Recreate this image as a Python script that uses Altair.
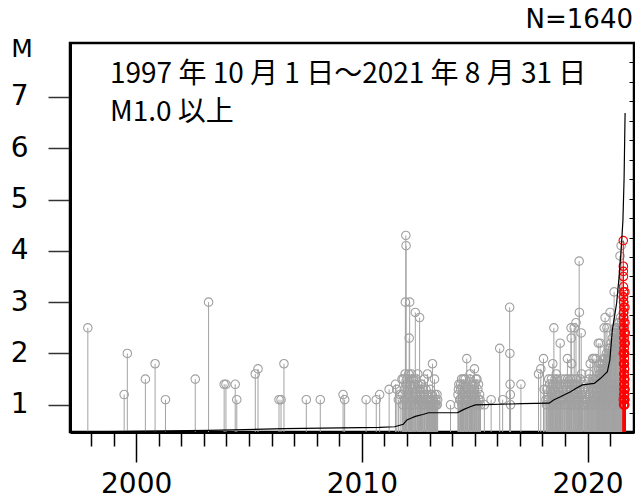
import altair as alt
import pandas as pd

# ---------------- data ----------------
# isolated events 1997-2011
early_years = [1997.86, 1999.47, 1999.61, 2000.41, 2000.84, 2001.30, 2002.62, 2003.21,
               2003.90, 2003.98, 2004.39, 2004.46, 2005.28, 2005.40, 2006.33, 2006.42,
               2006.55, 2007.54, 2008.16, 2009.17, 2009.24, 2010.19, 2010.64, 2010.79, 2011.21]
early_mags = [2.5, 1.2, 2.0, 1.5, 1.8, 1.1, 1.5, 3.0,
              1.4, 1.4, 1.4, 1.1, 1.6, 1.7, 1.1, 1.1,
              1.8, 1.1, 1.1, 1.2, 1.1, 1.1, 1.1, 1.2, 1.3]

# taller / isolated events 2011-2021 (grey)
tall_years = [2011.49, 2011.55, 2011.62, 2011.70, 2011.78, 2011.93, 2011.95, 2011.96,
              2012.10, 2012.12, 2012.37, 2012.48, 2012.56, 2012.65, 2012.77, 2012.91,
              2013.07, 2013.13, 2013.22, 2013.33, 2013.93,
              2014.28, 2014.38, 2014.50, 2014.65, 2014.80, 2014.99, 2015.06, 2015.17,
              2015.43, 2015.73, 2016.11, 2016.24, 2016.55, 2016.56, 2016.57, 2016.58,
              2016.59, 2017.05, 2017.83, 2017.93, 2018.05, 2018.08, 2018.46, 2018.51,
              2018.62, 2018.79, 2019.11, 2019.27, 2019.28, 2019.30, 2019.41, 2019.49,
              2019.63, 2019.64, 2019.72, 2019.74, 2020.07, 2020.12, 2020.23, 2020.29,
              2020.38, 2020.48, 2020.56, 2020.74, 2020.78, 2020.86, 2021.00, 2021.18,
              2021.44, 2021.49]
tall_mags = [1.4, 1.3, 1.1, 1.2, 1.5, 3.0, 4.3, 4.1,
             2.3, 3.0, 2.8, 1.6, 2.7, 1.4, 1.5, 1.6,
             1.2, 1.8, 1.5, 1.2, 1.0,
             1.3, 1.4, 1.5, 1.9, 1.6, 1.7, 1.5, 1.4,
             1.0, 1.1, 2.1, 1.1, 2.9, 2.0, 1.4, 1.2,
             1.0, 1.4, 1.6, 1.7, 1.9, 1.3, 1.8, 2.5,
             1.6, 2.2, 1.9, 2.5, 2.3, 1.8, 2.5, 2.6,
             3.8, 2.8, 2.4, 1.6, 1.6, 1.8, 1.9, 1.9,
             1.9, 2.2, 2.2, 2.5, 2.7, 2.5, 2.8, 3.2,
             3.9, 4.1]

# dense swarm 2011-2013
a_years = [2011.80, 2011.84, 2011.88, 2011.92, 2011.96, 2012.00, 2012.04, 2012.08, 2012.12, 2012.16,
           2012.20, 2012.24, 2012.28, 2012.32, 2012.36, 2012.40, 2012.44, 2012.48, 2012.52, 2012.56,
           2012.60, 2012.64, 2012.68, 2012.72, 2012.76, 2012.80, 2012.84, 2012.88, 2012.92, 2012.96,
           2013.00, 2013.04, 2013.08, 2013.12, 2013.16, 2013.20, 2013.24, 2013.28, 2013.32, 2013.36,
           2011.82, 2011.90, 2011.98, 2012.06, 2012.14, 2012.22, 2012.30, 2012.38, 2012.46, 2012.54,
           2012.62, 2012.70, 2012.78, 2012.86, 2012.94, 2013.02, 2013.10, 2013.18, 2013.26, 2013.34]
a_mags = [1.2, 1.5, 1.3, 1.6, 1.4, 1.5, 1.3, 1.6, 1.5, 1.4,
          1.6, 1.3, 1.5, 1.4, 1.2, 1.5, 1.3, 1.4, 1.1, 1.3,
          1.2, 1.4, 1.1, 1.3, 1.2, 1.0, 1.3, 1.1, 1.2, 1.0,
          1.1, 1.3, 1.0, 1.2, 1.1, 1.0, 1.2, 1.1, 1.0, 1.1,
          1.0, 1.1, 1.0, 1.2, 1.0, 1.1, 1.0, 1.2, 1.1, 1.0,
          1.1, 1.0, 1.0, 1.1, 1.0, 1.0, 1.1, 1.0, 1.0, 1.0]

# dense swarm 2014-2015
b_years = [2014.26, 2014.30, 2014.34, 2014.38, 2014.42, 2014.46, 2014.50, 2014.54, 2014.58, 2014.62,
           2014.66, 2014.70, 2014.74, 2014.78, 2014.82, 2014.86, 2014.90, 2014.94, 2014.98, 2015.02,
           2015.06, 2015.10, 2015.14, 2015.18, 2015.22, 2015.26,
           2014.28, 2014.36, 2014.44, 2014.52, 2014.60, 2014.68, 2014.76, 2014.84, 2014.92, 2015.00,
           2015.08, 2015.16, 2015.24]
b_mags = [1.2, 1.4, 1.1, 1.3, 1.5, 1.2, 1.4, 1.3, 1.5, 1.1,
          1.3, 1.4, 1.2, 1.5, 1.3, 1.1, 1.4, 1.2, 1.3, 1.4,
          1.2, 1.5, 1.3, 1.1, 1.2, 1.0,
          1.0, 1.1, 1.0, 1.2, 1.0, 1.1, 1.0, 1.2, 1.0, 1.1,
          1.0, 1.0, 1.1]

# dense activity 2018-2020
c_years = [2018.16, 2018.20, 2018.24, 2018.28, 2018.32, 2018.36, 2018.40, 2018.44, 2018.48, 2018.52,
           2018.56, 2018.60, 2018.64, 2018.68, 2018.72, 2018.76, 2018.80, 2018.84, 2018.88, 2018.92,
           2018.96, 2019.00, 2019.04, 2019.08, 2019.12, 2019.16, 2019.20, 2019.24, 2019.28, 2019.32,
           2019.36, 2019.40, 2019.44, 2019.48, 2019.52, 2019.56, 2019.60, 2019.64, 2019.68, 2019.72,
           2019.76, 2019.80, 2019.84, 2019.88, 2019.92, 2019.96, 2020.00, 2020.04, 2020.08, 2020.12,
           2020.16, 2020.20, 2020.24, 2020.28, 2020.32, 2020.36, 2020.40, 2020.44,
           2018.18, 2018.26, 2018.34, 2018.42, 2018.50, 2018.58, 2018.66, 2018.74, 2018.82, 2018.90,
           2018.98, 2019.06, 2019.14, 2019.22, 2019.30, 2019.38, 2019.46, 2019.54, 2019.62, 2019.70,
           2019.78, 2019.86, 2019.94, 2020.02, 2020.10, 2020.18, 2020.26, 2020.34, 2020.42]
c_mags = [1.1, 1.3, 1.2, 1.5, 1.4, 1.3, 1.5, 1.2, 1.4, 1.3,
          1.5, 1.4, 1.2, 1.5, 1.3, 1.4, 1.1, 1.5, 1.3, 1.4,
          1.2, 1.5, 1.4, 1.3, 1.5, 1.2, 1.4, 1.5, 1.3, 1.4,
          1.5, 1.2, 1.4, 1.3, 1.5, 1.4, 1.2, 1.3, 1.5, 1.4,
          1.2, 1.1, 1.3, 1.0, 1.2, 1.4, 1.1, 1.3, 1.5, 1.2,
          1.4, 1.3, 1.5, 1.4, 1.2, 1.5, 1.4, 1.3,
          1.0, 1.1, 1.0, 1.2, 1.0, 1.1, 1.0, 1.2, 1.0, 1.1,
          1.0, 1.2, 1.0, 1.1, 1.0, 1.2, 1.0, 1.1, 1.0, 1.2,
          1.0, 1.0, 1.1, 1.0, 1.2, 1.0, 1.1, 1.0, 1.2]

# very dense activity 2020.5-2021.6
d_years = [2020.46, 2020.48, 2020.50, 2020.52, 2020.54, 2020.56, 2020.58, 2020.60, 2020.62, 2020.64,
           2020.66, 2020.68, 2020.70, 2020.72, 2020.74, 2020.76, 2020.78, 2020.80, 2020.82, 2020.84,
           2020.86, 2020.88, 2020.90, 2020.92, 2020.94, 2020.96, 2020.98, 2021.00, 2021.02, 2021.04,
           2021.06, 2021.08, 2021.10, 2021.12, 2021.14, 2021.16, 2021.18, 2021.20, 2021.22, 2021.24,
           2021.26, 2021.28, 2021.30, 2021.32, 2021.34, 2021.36, 2021.38, 2021.40, 2021.42, 2021.44,
           2021.46, 2021.48, 2021.50, 2021.52, 2021.54, 2021.56,
           2020.47, 2020.51, 2020.55, 2020.59, 2020.63, 2020.67, 2020.71, 2020.75, 2020.79, 2020.83,
           2020.87, 2020.91, 2020.95, 2020.99, 2021.03, 2021.07, 2021.11, 2021.15, 2021.19, 2021.23,
           2021.27, 2021.31, 2021.35, 2021.39, 2021.43, 2021.47, 2021.51, 2021.55]
d_mags = [1.5, 1.4, 1.7, 1.5, 1.6, 1.8, 1.5, 1.7, 1.5, 1.6,
          1.8, 1.6, 1.7, 1.9, 1.6, 1.8, 1.6, 1.9, 1.7, 2.0,
          1.8, 1.7, 1.9, 2.1, 1.9, 2.0, 1.9, 2.1, 1.9, 2.2,
          2.0, 2.0, 2.3, 2.1, 2.0, 2.4, 2.2, 2.0, 2.5, 2.2,
          2.4, 2.1, 2.5, 2.3, 2.6, 2.2, 2.4, 2.6, 2.3, 2.5,
          2.7, 2.4, 2.6, 2.3, 2.5, 2.2,
          1.0, 1.2, 1.1, 1.3, 1.0, 1.2, 1.4, 1.1, 1.3, 1.0,
          1.2, 1.4, 1.1, 1.3, 1.2, 1.4, 1.0, 1.3, 1.2, 1.4,
          1.1, 1.3, 1.2, 1.4, 1.0, 1.3, 1.2, 1.1]

# August 2021 (red)
red_years = [2021.585, 2021.588, 2021.590, 2021.592, 2021.595, 2021.598, 2021.600, 2021.602,
             2021.605, 2021.608, 2021.610, 2021.612, 2021.615, 2021.618, 2021.620, 2021.622,
             2021.625, 2021.628, 2021.630, 2021.632, 2021.635, 2021.638, 2021.640, 2021.642,
             2021.645, 2021.648, 2021.650, 2021.652, 2021.655, 2021.658, 2021.660, 2021.662,
             2021.665, 2021.587, 2021.597, 2021.607, 2021.617, 2021.627, 2021.637, 2021.647,
             2021.583, 2021.593, 2021.603, 2021.613, 2021.623, 2021.633, 2021.643, 2021.653,
             2021.663, 2021.586, 2021.596, 2021.606, 2021.616, 2021.626, 2021.636, 2021.646,
             2021.656, 2021.664, 2021.589, 2021.599, 2021.609, 2021.619, 2021.629, 2021.639]
red_mags = [4.2, 3.7, 3.6, 3.5, 3.3, 3.2, 3.1, 3.0,
            2.9, 2.8, 2.7, 2.6, 2.5, 2.4, 2.3, 2.2,
            2.1, 2.0, 1.9, 1.8, 1.7, 1.6, 1.5, 1.4,
            1.3, 1.2, 1.1, 1.0, 3.2, 2.9, 2.6, 2.4,
            2.2, 2.0, 1.8, 1.6, 1.4, 1.2, 1.0, 1.1,
            3.1, 2.8, 2.5, 2.3, 2.1, 1.9, 1.7, 1.5,
            1.3, 1.1, 1.0, 1.2, 1.4, 1.6, 1.8, 2.0,
            2.2, 2.4, 2.7, 3.0, 1.3, 1.5, 1.0, 1.1]

# cumulative number (right-hand scale 0-2000)
cum_years = [1997.75, 1997.86, 2003.21, 2006.55, 2010.79, 2011.45, 2011.84, 2012.00, 2012.20,
             2012.37, 2012.70, 2012.96, 2014.25, 2014.50, 2014.80, 2015.03, 2015.50, 2016.60,
             2017.10, 2018.30, 2018.50, 2018.80, 2019.25, 2019.50, 2019.77, 2020.30, 2020.58,
             2020.88, 2020.99, 2021.10, 2021.29, 2021.40, 2021.50, 2021.57, 2021.62, 2021.665]
cum_n = [0, 1, 8, 17, 24, 27, 40, 62, 72,
         80, 90, 99, 100, 115, 130, 139, 141, 144,
         146, 148, 165, 181, 207, 225, 242, 250, 276,
         310, 370, 524, 662, 798, 953, 1090, 1300, 1640]

title_lines = ["1997 年 10 月 1 日～2021 年 8 月 31 日", "M1.0 以上"]
count_label = "N=1640"
y_label = "M"
x_tick_years = list(range(1998, 2022))
y_tick_values = [1, 2, 3, 4, 5, 6, 7]

# ---------------- build ----------------
gray = pd.DataFrame({
    "year": early_years + tall_years + a_years + b_years + c_years + d_years,
    "mag": early_mags + tall_mags + a_mags + b_mags + c_mags + d_mags,
})
red = pd.DataFrame({"year": red_years, "mag": red_mags})
cum = pd.DataFrame({"year": cum_years, "n": cum_n})

YMIN, YMAX = 0.47, 8.05
W, H = 564, 389

x_enc = alt.X(
    "year:Q",
    scale=alt.Scale(domain=[1997.07, 2022.06], nice=False, zero=False),
    axis=alt.Axis(
        values=x_tick_years,
        labelExpr="datum.value % 10 === 0 ? format(datum.value, 'd') : ''",
        tickSize={"condition": {"test": "datum.value % 10 === 0", "value": 30}, "value": 14},
        tickColor="black", tickWidth=1.5,
        domainColor="black", domainWidth=3,
        labelFont="DejaVu Sans", labelFontSize=28, labelColor="black",
        labelPadding=8, labelOverlap=False, grid=False, title=None,
    ),
)
y_enc = alt.Y(
    "mag:Q",
    scale=alt.Scale(domain=[YMIN, YMAX], nice=False, zero=False),
    axis=alt.Axis(
        values=y_tick_values, format="d",
        tickSize=22, tickColor="#333", tickWidth=1.5,
        domainColor="black", domainWidth=3,
        labelFont="DejaVu Sans", labelFontSize=28, labelColor="black",
        labelPadding=20, grid=False, title=None,
    ),
)

gray_rules = alt.Chart(gray).mark_rule(color="#a3a3a3", strokeWidth=1).encode(
    x=x_enc, y=y_enc, y2=alt.datum(YMIN))
gray_pts = alt.Chart(gray).mark_point(shape="circle", filled=False, size=72,
                                      color="#a0a0a0", strokeWidth=1.1, opacity=1).encode(
    x=x_enc, y=y_enc)
red_rules = alt.Chart(red).mark_rule(color="#ff0000", strokeWidth=1).encode(
    x=x_enc, y=y_enc, y2=alt.datum(YMIN))
red_pts = alt.Chart(red).mark_point(shape="circle", filled=False, size=72,
                                    color="#ff0000", strokeWidth=1.1, opacity=1).encode(
    x=x_enc, y=y_enc)

cum_line = alt.Chart(cum).mark_line(color="black", strokeWidth=1.2).encode(
    x=x_enc,
    y=alt.Y("n:Q", scale=alt.Scale(domain=[0, 2000], nice=False),
            axis=alt.Axis(orient="left", offset=-W, values=list(range(0, 2001, 100)),
                          labels=False, domain=False, grid=False, ticks=True,
                          tickSize=5, tickColor="black", tickWidth=1, title=None)),
)

t1 = alt.Chart(pd.DataFrame({"t": [title_lines[0]]})).mark_text(
    align="left", baseline="alphabetic", font="Noto Sans CJK JP", fontSize=28, color="black"
).encode(x=alt.value(40), y=alt.value(40), text="t:N")
t2 = alt.Chart(pd.DataFrame({"t": [title_lines[1]]})).mark_text(
    align="left", baseline="alphabetic", font="Noto Sans CJK JP", fontSize=28, color="black"
).encode(x=alt.value(40), y=alt.value(78), text="t:N")
tn = alt.Chart(pd.DataFrame({"t": [count_label]})).mark_text(
    align="right", baseline="alphabetic", font="DejaVu Sans", fontSize=26, color="black"
).encode(x=alt.value(563), y=alt.value(-15), text="t:N")
tm = alt.Chart(pd.DataFrame({"t": [y_label]})).mark_text(
    align="center", baseline="alphabetic", font="DejaVu Sans", fontSize=25, color="black"
).encode(x=alt.value(-48), y=alt.value(14), text="t:N")

chart = alt.layer(
    gray_rules, gray_pts, red_rules, red_pts, cum_line, t1, t2, tn, tm
).resolve_scale(y="independent").resolve_axis(y="independent").properties(
    width=W, height=H,
    background="white",
    autosize=alt.AutoSizeParams(type="none"),
    padding={"left": 62, "top": 35, "right": 1, "bottom": 62},
).configure_view(stroke="black", strokeWidth=2.5)

chart.save("out.html", embed_options={"renderer": "svg", "actions": False})
